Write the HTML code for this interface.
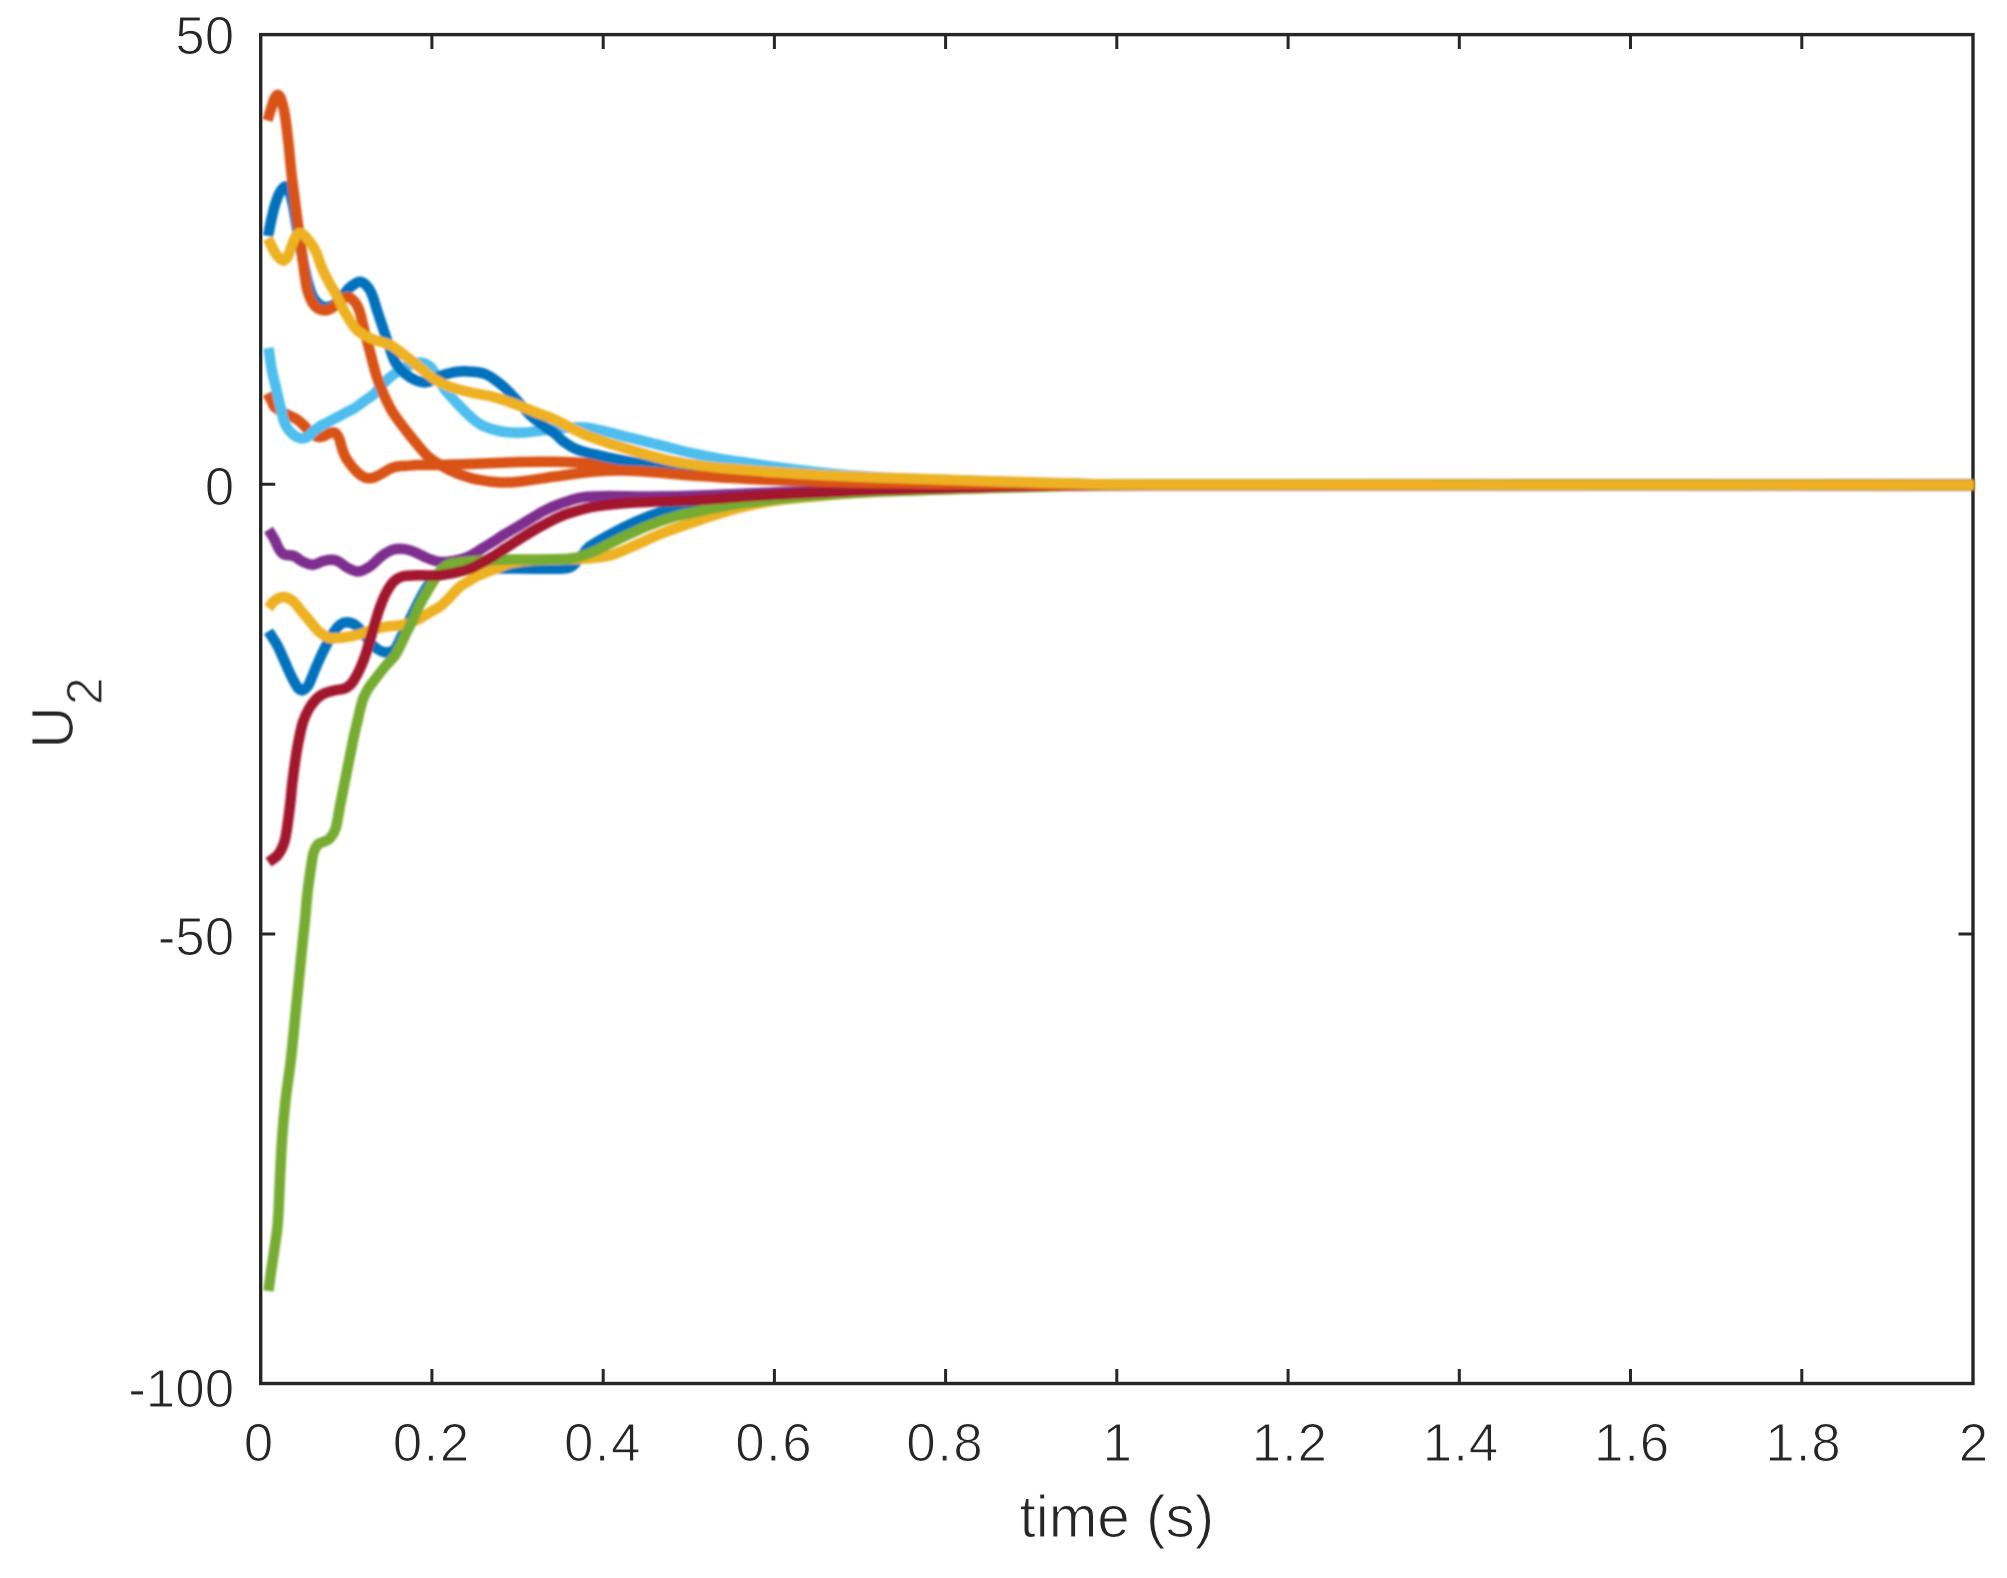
<!DOCTYPE html>
<html lang="en"><head><meta charset="utf-8"><title>U2 vs time</title>
<style>html,body{margin:0;padding:0;background:#fff;}body{width:2007px;height:1578px;overflow:hidden;}svg{display:block;}text{font-family:"Liberation Sans",Arial,Helvetica,sans-serif;fill:#262626;}</style></head><body>
<svg width="2007" height="1578" viewBox="0 0 2007 1578">
<defs><filter id="softc" filterUnits="userSpaceOnUse" x="0" y="0" width="2007" height="1578"><feGaussianBlur stdDeviation="0.9"/></filter><filter id="softt" filterUnits="userSpaceOnUse" x="0" y="0" width="2007" height="1578"><feGaussianBlur stdDeviation="0.6"/></filter></defs>
<rect x="0" y="0" width="2007" height="1578" fill="#ffffff"/>
<g stroke="#262626" stroke-width="3.4" fill="none" stroke-linecap="butt">
<rect x="260.7" y="34.6" width="1712.3" height="1348.9"/>
</g>
<path stroke="#262626" stroke-width="3" fill="none" d="M431.9 1383.5v-14.5M431.9 34.6v14.5M603.2 1383.5v-14.5M603.2 34.6v14.5M774.4 1383.5v-14.5M774.4 34.6v14.5M945.6 1383.5v-14.5M945.6 34.6v14.5M1116.8 1383.5v-14.5M1116.8 34.6v14.5M1288.1 1383.5v-14.5M1288.1 34.6v14.5M1459.3 1383.5v-14.5M1459.3 34.6v14.5M1630.5 1383.5v-14.5M1630.5 34.6v14.5M1801.8 1383.5v-14.5M1801.8 34.6v14.5M260.7 484.2h14.5M1973.0 484.2h-14.5M260.7 933.9h14.5M1973.0 933.9h-14.5"/>
<g fill="none" filter="url(#softc)" stroke-width="10.5" stroke-linejoin="round" stroke-linecap="butt">
<path stroke="#0072BD" d="M268.5 631.3C270.0 633.7 274.7 640.4 277.4 645.5C280.1 650.6 282.4 656.5 284.9 662.0C287.4 667.5 290.2 674.1 292.4 678.4C294.6 682.7 296.5 686.0 298.0 688.0C299.5 690.0 300.2 690.2 301.4 690.4C302.6 690.6 303.8 690.0 305.0 689.0C306.2 688.0 306.9 688.1 308.8 684.4C310.7 680.6 313.8 672.2 316.3 666.5C318.8 660.8 321.1 655.5 323.8 650.0C326.6 644.5 330.1 637.8 332.8 633.6C335.5 629.4 337.7 626.5 340.2 624.6C342.7 622.7 344.9 622.0 347.7 622.3C350.4 622.5 353.7 623.7 356.7 626.1C359.7 628.5 362.6 633.1 365.6 636.6C368.6 640.1 371.4 644.4 374.6 647.0C377.9 649.6 381.9 651.8 385.1 652.3C388.4 652.8 391.9 651.6 394.1 650.0C396.4 648.4 396.9 645.8 398.6 642.5C400.3 639.2 402.3 634.6 404.5 630.0C406.7 625.4 409.5 620.0 412.0 615.0C414.5 610.0 417.0 604.7 419.5 600.0C422.0 595.3 424.5 590.8 427.0 587.0C429.5 583.2 432.0 579.7 434.5 577.0C437.0 574.3 439.4 572.3 442.0 571.0C444.6 569.7 443.7 569.4 450.0 569.0C456.3 568.6 469.1 568.6 480.0 568.5C490.9 568.4 502.9 568.5 515.4 568.5C527.9 568.5 545.9 569.0 555.0 568.8C564.1 568.6 565.8 569.3 570.0 567.5C574.2 565.7 576.8 561.5 580.0 558.0C583.2 554.5 584.6 550.5 589.4 546.7C594.2 542.9 601.4 539.1 609.0 535.0C616.6 530.9 626.3 525.9 635.0 522.0C643.7 518.1 653.4 514.2 661.0 511.6C668.6 509.0 673.9 507.6 680.4 506.4C686.9 505.2 693.4 505.5 700.0 504.4C706.6 503.3 706.7 501.6 720.0 500.0C733.3 498.4 761.7 495.9 780.0 494.5C798.3 493.1 813.2 492.3 830.0 491.5C846.8 490.7 864.3 490.1 881.0 489.5C897.7 488.9 910.2 488.5 930.0 488.0C949.8 487.5 975.8 486.9 1000.0 486.5C1024.2 486.1 1050.0 485.6 1075.0 485.3C1100.0 485.0 1075.0 484.9 1150.0 484.8C1299.9 484.7 1837.1 484.9 1974.5 484.9"/>
<path stroke="#D95319" d="M267.5 393.5C268.2 394.8 270.7 398.9 271.8 401.1C272.9 403.3 272.9 405.2 274.4 406.9C275.9 408.6 278.7 410.1 281.0 411.5C283.3 412.9 285.4 413.7 288.0 415.0C290.6 416.3 294.0 417.6 296.5 419.2C299.0 420.8 300.6 422.3 302.9 424.4C305.1 426.5 307.7 430.0 310.0 432.0C312.3 434.0 314.3 435.8 316.5 436.5C318.7 437.2 320.8 437.1 323.0 436.5C325.2 435.9 327.6 433.7 329.5 433.0C331.4 432.3 333.1 431.6 334.7 432.5C336.3 433.4 338.0 436.0 339.2 438.5C340.4 441.0 340.7 444.6 341.8 447.7C342.9 450.8 344.2 454.5 345.7 457.4C347.2 460.3 349.2 462.7 350.9 465.0C352.6 467.3 354.1 469.2 356.0 471.0C357.9 472.8 360.0 474.8 362.0 476.0C364.0 477.2 365.9 478.1 368.0 478.3C370.1 478.5 372.3 478.1 374.6 477.3C376.9 476.5 379.5 474.9 382.0 473.5C384.5 472.1 387.1 470.2 389.6 469.0C392.1 467.8 394.5 467.0 397.0 466.5C399.5 466.0 401.2 466.2 404.5 466.0C407.8 465.8 412.0 465.2 417.0 465.0C422.0 464.8 424.6 465.2 434.5 465.0C444.4 464.8 462.1 464.2 476.3 463.7C490.6 463.2 506.9 462.3 520.0 462.0C533.1 461.7 541.7 461.5 555.0 461.8C568.3 462.1 584.2 462.9 600.0 464.0C615.8 465.1 633.3 466.8 650.0 468.5C666.7 470.2 681.7 472.8 700.0 474.5C718.3 476.2 738.3 477.6 760.0 478.8C781.7 480.0 809.8 481.1 830.0 481.8C850.2 482.5 864.3 482.7 881.0 483.0C897.7 483.3 910.2 483.6 930.0 483.8C949.8 484.0 963.3 484.1 1000.0 484.3C1036.7 484.5 1000.0 484.8 1150.0 484.9C1312.4 485.0 1837.1 484.9 1974.5 484.9"/>
<path stroke="#EDB120" d="M268.5 608.1C269.5 606.9 271.9 602.6 274.4 600.7C276.9 598.8 280.4 596.9 283.4 596.9C286.4 596.9 289.4 598.3 292.4 600.7C295.4 603.1 298.4 607.6 301.4 611.1C304.4 614.6 307.3 618.1 310.3 621.6C313.3 625.1 316.1 629.4 319.3 632.1C322.6 634.8 325.6 637.1 329.8 638.0C334.0 638.9 339.7 637.9 344.7 637.3C349.7 636.7 354.7 635.7 359.7 634.3C364.7 632.9 369.6 630.5 374.6 629.1C379.6 627.7 384.6 626.9 389.6 626.1C394.6 625.4 399.5 625.9 404.5 624.6C409.5 623.4 414.5 621.1 419.5 618.6C424.5 616.1 431.1 611.6 434.5 609.6C437.9 607.6 437.5 608.4 440.0 606.4C442.5 604.4 446.1 600.9 449.4 597.7C452.6 594.5 456.2 589.8 459.5 587.0C462.8 584.2 465.8 583.0 469.0 581.0C472.2 579.0 474.1 577.5 479.0 575.3C483.9 573.0 493.1 569.5 498.5 567.5C503.9 565.5 506.2 564.2 511.5 563.0C516.8 561.8 521.9 561.1 530.0 560.5C538.1 559.9 550.8 559.8 560.0 559.5C569.2 559.2 576.8 559.1 585.0 558.5C593.2 557.9 600.7 558.0 609.0 555.8C617.3 553.6 626.3 549.1 635.0 545.4C643.7 541.7 652.3 537.2 661.0 533.7C669.7 530.2 680.5 526.5 687.0 524.2C693.5 521.9 694.6 521.8 700.0 520.0C705.4 518.2 711.3 515.9 719.5 513.5C727.7 511.1 739.4 507.8 749.4 505.5C759.4 503.2 766.8 501.7 779.3 500.0C791.8 498.3 809.1 496.8 824.2 495.5C839.3 494.2 852.4 492.9 870.0 492.0C887.6 491.1 908.3 490.6 930.0 489.8C951.7 489.1 975.8 488.2 1000.0 487.5C1024.2 486.8 1050.0 486.1 1075.0 485.6C1100.0 485.2 1075.0 484.9 1150.0 484.8C1299.9 484.7 1837.1 484.9 1974.5 484.9"/>
<path stroke="#7E2F8E" d="M268.5 529.6C269.5 531.2 272.6 536.1 274.4 539.3C276.1 542.5 277.4 546.5 279.0 549.0C280.6 551.5 281.5 553.3 284.0 554.5C286.5 555.7 290.8 554.8 293.9 556.0C297.0 557.2 299.7 560.3 302.9 561.8C306.1 563.3 309.8 565.0 313.3 564.8C316.8 564.6 320.1 561.5 323.8 560.8C327.6 560.0 331.8 559.1 335.8 560.3C339.8 561.5 344.0 565.9 347.7 567.8C351.4 569.7 354.5 571.8 358.2 571.5C361.9 571.2 366.1 568.9 370.1 566.3C374.1 563.7 378.4 558.5 382.1 555.8C385.9 553.0 388.9 550.9 392.6 549.8C396.3 548.7 400.5 548.6 404.5 549.1C408.5 549.6 412.8 551.3 416.5 552.8C420.2 554.3 423.3 556.5 427.0 558.0C430.7 559.5 435.1 561.2 438.9 561.8C442.7 562.4 445.2 562.3 450.0 561.5C454.8 560.7 461.9 559.2 467.4 557.0C472.9 554.8 478.4 550.7 482.9 548.0C487.4 545.3 490.6 543.3 494.3 541.0C498.0 538.7 501.1 536.4 505.0 534.0C508.9 531.6 513.7 529.1 518.0 526.5C522.3 523.9 526.7 521.1 531.0 518.5C535.3 515.9 539.7 513.1 544.0 510.9C548.3 508.6 552.7 506.7 557.0 505.0C561.3 503.3 565.7 501.8 570.0 500.5C574.3 499.2 576.5 497.9 583.0 497.2C589.5 496.4 597.8 496.1 609.0 496.0C620.2 495.9 634.8 496.6 650.0 496.5C665.2 496.4 681.7 496.1 700.0 495.5C718.3 494.9 738.3 493.8 760.0 493.0C781.7 492.2 809.8 491.2 830.0 490.5C850.2 489.8 864.3 489.3 881.0 488.8C897.7 488.3 910.2 487.9 930.0 487.5C949.8 487.1 975.8 486.6 1000.0 486.2C1024.2 485.8 1050.0 485.4 1075.0 485.2C1100.0 485.0 1075.0 484.9 1150.0 484.8C1299.9 484.8 1837.1 484.9 1974.5 484.9"/>
<path stroke="#77AC30" d="M268.4 1291.0C268.8 1287.8 270.1 1278.7 271.0 1272.0C271.9 1265.3 273.0 1259.0 274.1 1251.0C275.2 1243.0 276.7 1236.1 277.7 1224.3C278.7 1212.5 279.2 1194.1 279.9 1180.0C280.6 1165.9 281.1 1153.0 282.0 1139.6C282.9 1126.2 284.1 1112.9 285.6 1099.6C287.1 1086.3 289.3 1073.0 290.9 1059.7C292.4 1046.4 293.6 1033.1 294.9 1019.8C296.2 1006.5 297.6 993.2 298.9 979.9C300.2 966.6 301.8 950.7 302.9 939.9C304.0 929.1 304.8 922.6 305.5 915.0C306.2 907.4 306.5 901.6 307.3 894.4C308.1 887.2 309.3 878.8 310.3 872.0C311.3 865.2 312.1 858.1 313.3 853.5C314.6 848.9 316.2 846.4 317.8 844.5C319.4 842.6 321.0 843.0 323.0 842.0C325.0 841.0 327.7 840.8 329.8 838.5C331.9 836.2 334.1 833.6 335.8 828.0C337.5 822.4 338.7 812.3 340.2 804.7C341.7 797.1 343.2 789.7 344.7 782.2C346.2 774.7 347.7 767.3 349.2 759.8C350.7 752.3 352.2 744.4 353.7 737.4C355.2 730.4 356.7 724.1 358.2 717.9C359.7 711.7 361.1 704.8 362.7 700.0C364.3 695.2 366.0 692.4 368.0 689.0C370.0 685.6 371.8 683.6 374.6 679.9C377.5 676.1 381.6 670.7 385.1 666.5C388.6 662.3 392.4 659.5 395.6 654.5C398.8 649.5 401.8 642.1 404.5 636.6C407.2 631.1 409.5 626.9 412.0 621.6C414.5 616.4 417.0 610.1 419.5 605.1C422.0 600.1 424.5 595.9 427.0 591.7C429.5 587.5 432.0 583.5 434.5 579.7C437.0 575.9 439.4 571.6 441.9 569.0C444.4 566.4 445.6 565.2 449.4 564.0C453.1 562.8 459.4 562.5 464.4 562.0C469.4 561.5 471.8 561.2 479.3 560.8C486.8 560.4 500.6 559.7 509.2 559.5C517.8 559.3 520.9 559.7 531.0 559.5C541.1 559.3 561.0 559.1 570.0 558.4C579.0 557.6 580.6 556.3 584.9 555.0C589.2 553.7 589.8 553.5 596.0 550.6C602.2 547.7 613.3 541.7 622.0 537.6C630.7 533.5 639.3 529.4 648.0 525.9C656.7 522.4 665.3 519.3 674.0 516.8C682.7 514.3 689.9 513.0 700.0 511.0C710.1 508.9 721.3 506.5 734.5 504.5C747.7 502.5 763.4 500.7 779.3 499.0C795.2 497.3 813.0 495.8 830.0 494.5C847.0 493.2 864.3 492.3 881.0 491.5C897.7 490.7 910.2 490.5 930.0 489.8C949.8 489.1 975.8 488.2 1000.0 487.5C1024.2 486.8 1050.0 486.1 1075.0 485.6C1100.0 485.2 1075.0 484.9 1150.0 484.8C1299.9 484.7 1837.1 484.9 1974.5 484.9"/>
<path stroke="#4DBEEE" d="M268.5 347.8C269.1 351.5 270.5 363.1 271.8 370.0C273.1 376.9 274.9 382.9 276.4 389.4C277.9 395.9 279.6 403.5 280.9 408.9C282.2 414.3 282.8 418.2 284.1 421.8C285.4 425.4 286.9 427.8 288.7 430.2C290.5 432.6 293.3 434.8 295.2 436.1C297.1 437.5 298.4 438.1 300.3 438.3C302.2 438.5 304.6 438.5 306.8 437.4C309.0 436.3 311.1 433.4 313.3 431.5C315.5 429.6 317.7 427.7 319.8 426.3C321.9 424.9 323.5 424.5 326.2 423.1C328.9 421.7 332.8 419.6 336.0 417.9C339.2 416.2 342.5 414.4 345.7 412.7C348.9 411.0 352.2 409.7 355.4 407.6C358.6 405.6 362.1 402.6 365.1 400.4C368.1 398.2 370.9 397.0 373.5 394.6C376.1 392.2 378.3 388.8 381.0 386.0C383.7 383.2 386.4 380.4 389.6 377.7C392.8 375.0 396.6 372.1 400.0 370.0C403.4 367.9 406.8 366.2 410.0 365.0C413.2 363.8 416.8 362.7 419.5 362.5C422.2 362.3 424.0 363.1 426.0 364.0C428.0 364.9 429.5 365.9 431.5 368.2C433.5 370.5 435.8 374.4 438.0 378.0C440.2 381.6 441.8 385.4 444.9 389.6C448.0 393.8 452.7 398.6 456.9 403.1C461.1 407.6 466.1 412.8 470.3 416.5C474.5 420.2 477.1 423.0 482.3 425.5C487.5 428.0 494.7 430.3 501.7 431.5C508.7 432.7 517.0 432.8 524.2 432.5C531.4 432.2 537.4 430.8 545.0 430.0C552.6 429.2 563.3 427.9 570.0 427.5C576.7 427.1 580.0 427.1 585.0 427.5C590.0 427.9 592.4 428.5 599.9 430.2C607.4 431.9 619.8 435.2 629.8 437.7C639.8 440.2 649.7 442.6 659.7 445.1C669.7 447.6 679.6 450.4 689.6 452.6C699.6 454.9 709.5 456.9 719.5 458.6C729.5 460.4 739.4 461.6 749.4 463.1C759.4 464.6 765.9 465.8 779.3 467.5C792.7 469.2 813.0 471.8 830.0 473.5C847.0 475.2 864.3 476.5 881.0 477.5C897.7 478.5 910.2 478.8 930.0 479.5C949.8 480.2 975.8 481.1 1000.0 481.8C1024.2 482.5 1050.0 483.1 1075.0 483.6C1100.0 484.1 1075.0 484.7 1150.0 484.9C1299.9 485.1 1837.1 484.9 1974.5 484.9"/>
<path stroke="#A2142F" d="M268.5 862.3C270.0 861.2 275.1 857.9 277.4 855.5C279.6 853.1 280.8 850.6 282.0 848.0C283.2 845.4 284.0 843.5 284.9 840.0C285.8 836.5 286.3 833.0 287.2 827.1C288.1 821.2 289.2 812.2 290.1 804.7C291.0 797.2 291.5 789.7 292.4 782.2C293.3 774.7 294.4 766.5 295.4 759.8C296.4 753.1 297.1 748.1 298.4 741.9C299.6 735.7 301.2 727.9 302.9 722.4C304.6 716.9 306.6 712.9 308.8 709.0C311.0 705.1 313.8 701.6 316.3 699.0C318.8 696.4 321.2 694.9 324.0 693.5C326.8 692.1 329.4 691.6 332.8 690.8C336.2 690.0 341.8 689.5 344.7 688.5C347.6 687.5 348.5 686.3 350.0 685.0C351.5 683.7 352.1 683.1 353.7 680.5C355.3 677.9 357.7 673.7 359.7 669.4C361.7 665.1 363.9 659.5 365.6 654.5C367.3 649.5 368.6 644.5 370.1 639.5C371.6 634.5 373.1 629.6 374.6 624.6C376.1 619.6 377.4 614.6 379.1 609.6C380.9 604.6 382.9 599.2 385.1 594.7C387.4 590.2 389.9 585.7 392.6 582.7C395.3 579.7 397.0 578.0 401.5 576.7C406.0 575.5 413.1 575.4 419.5 575.2C425.9 575.0 432.2 576.2 440.0 575.3C447.8 574.4 459.4 571.9 466.0 570.0C472.6 568.1 475.0 566.2 479.3 564.0C483.6 561.8 487.7 559.6 492.0 557.0C496.3 554.4 500.7 551.3 505.0 548.5C509.3 545.7 513.7 543.0 518.0 540.2C522.3 537.5 526.7 534.6 531.0 532.0C535.3 529.4 539.7 526.9 544.0 524.6C548.3 522.3 552.7 520.0 557.0 518.0C561.3 516.0 563.5 514.8 570.0 512.9C576.5 511.0 585.2 508.1 596.0 506.4C606.8 504.7 617.7 503.6 635.0 502.5C652.3 501.4 679.2 501.1 700.0 499.9C720.8 498.7 738.3 496.8 760.0 495.5C781.7 494.2 809.8 492.9 830.0 492.0C850.2 491.1 864.3 490.4 881.0 489.8C897.7 489.2 910.2 489.0 930.0 488.5C949.8 488.0 975.8 487.3 1000.0 486.8C1024.2 486.3 1050.0 485.7 1075.0 485.4C1100.0 485.1 1075.0 484.9 1150.0 484.8C1299.9 484.7 1837.1 484.9 1974.5 484.9"/>
<path stroke="#0072BD" d="M268.0 236.0C268.6 233.2 270.2 224.7 271.4 219.5C272.6 214.3 273.7 209.2 275.0 205.0C276.3 200.8 277.6 196.9 279.0 194.0C280.4 191.1 282.1 188.7 283.4 187.5C284.7 186.3 285.9 186.1 287.0 187.0C288.1 187.9 289.0 190.0 290.0 193.0C291.0 196.0 291.8 199.2 293.0 205.0C294.2 210.8 295.8 221.3 297.0 228.0C298.2 234.7 298.8 238.8 300.0 245.0C301.2 251.2 302.7 258.7 304.0 265.0C305.3 271.3 306.5 277.7 308.0 283.0C309.5 288.3 311.0 293.3 313.0 297.0C315.0 300.7 317.5 303.3 320.0 305.0C322.5 306.7 325.3 307.3 328.0 307.0C330.7 306.7 333.3 305.2 336.0 303.0C338.7 300.8 341.5 296.8 344.0 294.0C346.5 291.2 348.4 288.5 351.0 286.5C353.6 284.5 357.2 282.1 359.7 281.8C362.2 281.6 364.0 283.1 366.0 285.0C368.0 286.9 369.7 289.0 371.6 293.5C373.5 298.0 375.6 305.8 377.6 311.9C379.6 317.9 381.6 323.8 383.6 329.8C385.6 335.8 387.6 342.3 389.6 347.8C391.6 353.3 393.1 358.5 395.6 362.7C398.1 366.9 401.0 370.2 404.5 373.2C408.0 376.2 412.8 379.2 416.5 380.7C420.2 382.2 422.8 383.1 427.0 382.2C431.2 381.3 436.9 377.2 441.9 375.5C446.9 373.8 451.9 372.3 456.9 371.7C461.9 371.1 466.8 371.2 471.8 371.7C476.8 372.2 481.8 372.5 486.8 374.7C491.8 376.9 496.7 380.9 501.7 385.1C506.7 389.3 511.7 394.9 516.7 400.1C521.7 405.3 526.6 411.9 531.6 416.5C536.6 421.1 542.7 425.2 546.6 428.0C550.5 430.8 552.4 431.4 555.0 433.5C557.6 435.6 558.8 438.0 562.5 440.7C566.2 443.4 571.2 447.1 577.4 449.6C583.6 452.1 591.2 453.6 599.9 455.6C608.6 457.6 619.8 459.8 629.8 461.6C639.8 463.4 648.3 464.9 660.0 466.5C671.7 468.1 683.3 469.9 700.0 471.5C716.7 473.1 738.3 474.7 760.0 476.0C781.7 477.3 809.8 478.6 830.0 479.5C850.2 480.4 864.3 480.9 881.0 481.5C897.7 482.1 910.2 482.4 930.0 482.8C949.8 483.2 963.3 483.5 1000.0 483.8C1036.7 484.1 1000.0 484.7 1150.0 484.9C1312.4 485.1 1837.1 484.9 1974.5 484.9"/>
<path stroke="#D95319" d="M267.5 120.5C268.1 118.6 269.8 112.7 271.0 109.0C272.2 105.3 273.4 100.9 274.5 98.5C275.6 96.1 276.4 94.6 277.5 94.7C278.6 94.8 279.8 95.6 281.0 99.0C282.2 102.4 283.6 107.3 284.9 114.9C286.2 122.5 287.5 134.8 288.6 144.8C289.7 154.8 290.5 164.7 291.6 174.7C292.7 184.7 294.3 195.9 295.4 204.6C296.5 213.3 297.4 219.5 298.4 227.0C299.4 234.5 300.4 241.9 301.4 249.4C302.4 256.9 303.3 265.1 304.3 271.9C305.3 278.7 306.0 285.0 307.3 290.0C308.6 295.0 310.2 298.9 312.0 302.0C313.8 305.1 315.8 307.1 318.0 308.5C320.2 309.9 323.0 310.6 325.3 310.5C327.6 310.4 329.7 309.4 332.0 308.0C334.3 306.6 336.5 303.8 339.0 302.0C341.5 300.2 344.5 297.2 347.0 297.0C349.5 296.8 351.9 298.7 354.0 301.0C356.1 303.3 357.8 306.2 359.5 311.0C361.2 315.8 362.4 322.9 364.2 329.8C366.0 336.7 368.1 344.7 370.1 352.2C372.1 359.7 373.9 367.7 376.1 374.7C378.4 381.7 380.9 387.9 383.6 394.1C386.4 400.3 389.1 406.4 392.6 412.1C396.1 417.8 400.5 423.3 404.5 428.5C408.5 433.7 412.5 438.8 416.5 443.5C420.5 448.2 424.3 453.2 428.5 456.9C432.7 460.6 437.2 463.1 441.9 465.9C446.6 468.6 451.2 471.1 456.9 473.4C462.6 475.6 468.8 477.9 476.3 479.4C483.8 480.9 493.7 482.1 501.7 482.4C509.7 482.7 515.3 482.0 524.2 481.0C533.1 480.0 544.0 478.0 555.0 476.5C566.0 475.0 579.2 473.0 590.0 472.0C600.8 471.0 610.0 470.5 620.0 470.5C630.0 470.5 636.7 471.1 650.0 472.0C663.3 472.9 681.7 474.8 700.0 476.0C718.3 477.2 738.3 478.5 760.0 479.5C781.7 480.5 809.8 481.4 830.0 482.0C850.2 482.6 864.3 482.7 881.0 483.0C897.7 483.3 910.2 483.6 930.0 483.8C949.8 484.0 963.3 484.1 1000.0 484.3C1036.7 484.5 1000.0 484.8 1150.0 484.9C1312.4 485.0 1837.1 484.9 1974.5 484.9"/>
<path stroke="#EDB120" d="M268.0 238.5C268.7 239.9 270.5 244.2 272.0 247.0C273.5 249.8 275.1 253.2 277.0 255.5C278.9 257.8 281.6 260.6 283.4 260.7C285.2 260.8 286.6 258.6 288.0 256.0C289.4 253.4 290.7 248.3 292.0 245.0C293.3 241.7 294.7 238.0 296.0 236.0C297.3 234.0 298.4 233.0 299.9 233.0C301.4 233.0 302.5 233.3 305.0 236.0C307.5 238.7 311.9 243.9 314.8 249.4C317.7 254.9 319.8 263.2 322.3 268.9C324.8 274.6 327.6 279.6 329.8 283.8C332.1 288.0 333.3 289.3 335.8 294.0C338.3 298.7 341.2 305.9 344.7 311.9C348.2 317.9 352.2 325.3 356.7 329.8C361.2 334.3 366.1 336.3 371.6 338.8C377.1 341.3 384.1 342.1 389.6 344.8C395.1 347.5 399.5 351.5 404.5 355.2C409.5 358.9 414.5 363.2 419.5 367.2C424.5 371.2 429.5 376.0 434.5 379.2C439.5 382.4 443.2 384.4 449.4 386.6C455.6 388.8 464.3 390.9 471.8 392.6C479.3 394.4 486.8 395.1 494.3 397.1C501.8 399.1 509.2 401.9 516.7 404.6C524.2 407.4 532.7 411.1 539.1 413.6C545.5 416.1 547.4 416.2 555.0 419.7C562.6 423.2 574.9 430.5 584.9 434.7C594.9 438.9 604.8 441.9 614.8 445.1C624.8 448.3 634.7 451.4 644.7 454.1C654.7 456.9 664.6 459.6 674.6 461.6C684.6 463.6 694.5 464.9 704.5 466.1C714.5 467.4 722.0 468.0 734.5 469.1C747.0 470.2 763.4 471.5 779.3 472.6C795.2 473.7 813.0 474.6 830.0 475.5C847.0 476.4 864.3 477.2 881.0 477.8C897.7 478.4 910.2 478.6 930.0 479.2C949.8 479.8 975.8 480.8 1000.0 481.5C1024.2 482.2 1050.0 483.0 1075.0 483.5C1100.0 484.0 1075.0 484.3 1150.0 484.5C1299.9 484.7 1837.1 484.8 1974.5 484.9"/>
</g>
<g filter="url(#softt)" stroke="#ffffff" stroke-width="1.1">
<g font-size="53" text-anchor="middle">
<text x="258.4" y="1461">0</text>
<text x="431.6" y="1461" letter-spacing="1.4">0.2</text>
<text x="602.9" y="1461" letter-spacing="1.4">0.4</text>
<text x="774.1" y="1461" letter-spacing="1.4">0.6</text>
<text x="945.3" y="1461" letter-spacing="1.4">0.8</text>
<text x="1117.3" y="1461">1</text>
<text x="1289.7" y="1461" letter-spacing="0.8">1.2</text>
<text x="1460.9" y="1461" letter-spacing="0.8">1.4</text>
<text x="1632.1" y="1461" letter-spacing="0.8">1.6</text>
<text x="1803.4" y="1461" letter-spacing="0.8">1.8</text>
<text x="1973.5" y="1461">2</text>
</g>
<g font-size="53" text-anchor="end">
<text x="234.3" y="54.3">50</text>
<text x="234.3" y="505.4">0</text>
<text x="234.3" y="955.2">-50</text>
<text x="234.3" y="1406.7">-100</text>
</g>
<text x="1116.8" y="1537" font-size="58.4" text-anchor="middle">time (s)</text>
<g transform="translate(72.9,748.6) rotate(-90)"><text x="0" y="0" font-size="58.5">U</text><text x="43.6" y="28.6" font-size="50">2</text></g>
</g>
</svg></body></html>
